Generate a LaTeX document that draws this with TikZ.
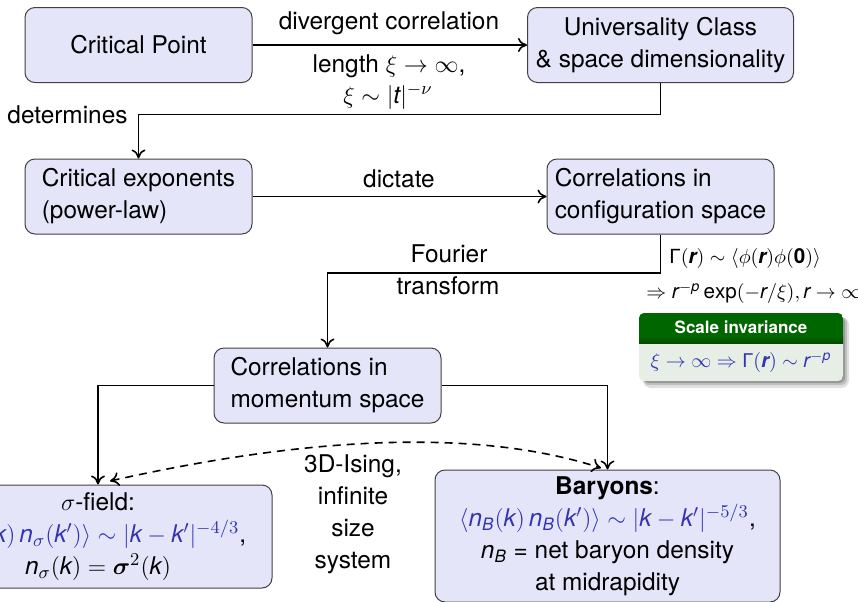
\documentclass[tikz,border=0pt]{standalone}
\usepackage{amsmath}
\usepackage{fontspec}
\setmainfont{TeX Gyre Heros}
\newfontfamily\grfont{Liberation Sans}
\edef\myrmfam{\rmdefault}
\DeclareSymbolFont{sfit}{TU}{\myrmfam}{m}{it}
\SetSymbolFont{sfit}{bold}{TU}{\myrmfam}{\bfdefault}{it}
\DeclareMathSymbol{k}{\mathalpha}{sfit}{`k}
\DeclareMathSymbol{n}{\mathalpha}{sfit}{`n}
\DeclareMathSymbol{r}{\mathalpha}{sfit}{`r}
\DeclareMathSymbol{t}{\mathalpha}{sfit}{`t}
\DeclareMathSymbol{p}{\mathalpha}{sfit}{`p}
\DeclareMathSymbol{B}{\mathalpha}{sfit}{`B}
\newcommand{\SGamma}{\mathord{\text{\grfont\upshape Γ}}}
\newcommand{\bzero}{\mathord{\text{\bfseries 0}}}
\usetikzlibrary{calc,arrows.meta}
\definecolor{boxfill}{RGB}{229,229,250}
\definecolor{sblue}{RGB}{51,51,179}
\definecolor{sihead}{RGB}{0,102,0}
\definecolor{sibody}{RGB}{230,238,230}
\begin{document}
\begin{tikzpicture}[x=0.5pt,y=-0.5pt,
  every node/.append style={font=\fontsize{12.2}{16}\selectfont},
  box/.style={draw=black!75, fill=boxfill, rounded corners=5pt, line width=0.5pt,
    minimum width=113.5pt, minimum height=37.5pt, align=center, inner sep=0pt},
  tip/.tip={To[length=4.5pt,width=7pt]},
  conn/.style={-tip, line width=0.8pt, black},
  small/.style={font=\fontsize{10.3}{12}\selectfont, inner sep=0pt}]
\useasboundingbox (0,0) rectangle (858,601);
\clip (0,0) rectangle (858,601);
% main boxes
\node[box] (cp) at (138.5,45) {Critical Point};
\node[box, minimum width=133pt] (uc) at (660.5,45) {Universality Class\\ \& space dimensionality};
\node[box, align=left] (ce) at (138.5,196.5) {Critical exponents\\(power-law)};
\node[box, align=left] (cs) at (660.5,196.5) {Correlations in\\configuration space};
\node[box, align=left] (ms) at (327.5,385.5) {Correlations in\\momentum space};
\node[box, minimum width=174pt, minimum height=51.5pt] (sf) at (98,536.5)
  {$\sigma$-field:\\
   {\color{sblue}$\langle n_\sigma(k)\,n_\sigma(k')\rangle\sim|k-k'|^{-4/3}$},\\
   $n_\sigma(k)=\boldsymbol{\sigma}^2(k)$};
\node[box, minimum width=172.5pt, minimum height=66pt] (ba) at (607.5,536)
  {\textbf{Baryons}:\\
   {\color{sblue}$\langle n_B(k)\,n_B(k')\rangle\sim|k-k'|^{-5/3}$},\\
   $n_B$ = net baryon density\\
   at midrapidity};
% connectors
\draw[conn] (cp) -- (uc);
\draw[conn] (uc.south) -- ++(0,31.5) -| (ce.north);
\draw[conn] (ce) -- (cs);
\draw[conn] (cs.south) -- ++(0,38.5) -| (ms.north);
\draw[conn] (ms.west) -| (sf.north);
\draw[conn] (ms.east) -| (ba.north);
\coordinate (dl) at (110,481);
\coordinate (dr) at (601,468);
\draw[conn, tip-tip, dash pattern=on 4pt off 3pt]
  (dl) .. controls (320,434) and (483,430) .. (dr);
% labels
\node (l1) at (389,23) {divergent correlation};
\node (l2) at (389,66) {length $\xi\to\infty$,};
\node (l3) at (388,97) {$\xi\sim|t|^{-\nu}$};
\node (l4) at (67.5,115) {determines};
\node (l5) at (399,179) {dictate};
\node (l6) at (449,254) {Fourier};
\node (l7) at (448,286) {transform};
\node[align=center] (l8) at (353,514) {3D-Ising,\\infinite\\size\\system};
% formulas
\node[small, anchor=west] (g1) at (669,258)
  {$\SGamma(\boldsymbol{r})\sim\langle\phi(\boldsymbol{r})\phi(\bzero)\rangle$};
\node[small, anchor=west] (g2) at (646,293)
  {$\Rightarrow r^{-p}\exp(-r/\xi), r\to\infty$};
% scale invariance block
\begin{scope}
  \fill[black, opacity=0.12, rounded corners=4pt] (643,317) rectangle (849,388);
  \fill[black, opacity=0.15, rounded corners=3pt] (643,317) rectangle (847,385);
  \fill[black, opacity=0.2, rounded corners=3pt] (643,317) rectangle (845,383);
\end{scope}
\begin{scope}
  \clip[rounded corners=2.5pt] (639,313) rectangle (843,381);
  \fill[sibody] (639,313) rectangle (843,381);
  \fill[sihead] (639,313) rectangle (843,343);
  \shade[top color=sihead, bottom color=sihead!75!black] (639,336) rectangle (843,343);
\end{scope}
\node[small, text=white, font=\bfseries\fontsize{8.5}{10}\selectfont] (sih) at (741,327) {Scale invariance};
\node[small, text=sblue, font=\fontsize{10}{12}\selectfont] (sib) at (741,362) {$\xi\to\infty\Rightarrow\SGamma(\boldsymbol{r})\sim r^{-p}$};
\end{tikzpicture}
\end{document}
